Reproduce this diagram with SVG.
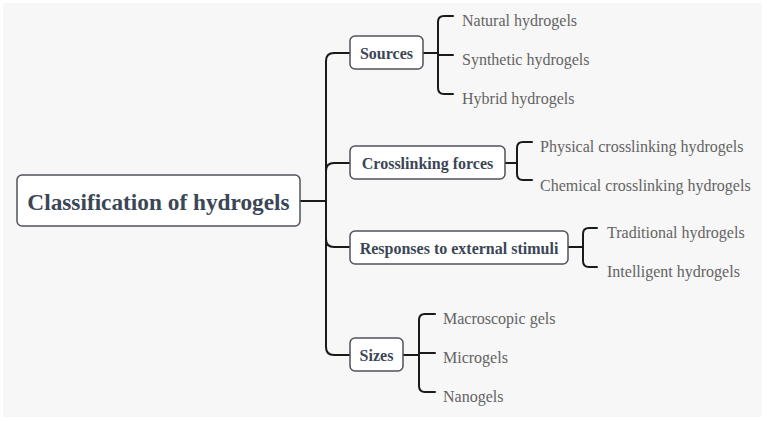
<svg xmlns="http://www.w3.org/2000/svg" width="767" height="421" viewBox="0 0 767 421">
<style>
.box{fill:#fff;stroke:#4f545c;stroke-width:1.5}
.bl{font-family:"Liberation Serif","Times New Roman",serif;font-weight:bold;font-size:16px;fill:#3b4656;text-anchor:middle}
.lf{font-family:"Liberation Serif","Times New Roman",serif;font-size:16px;fill:#636363}
.c{fill:none;stroke:#1a1a1a;stroke-width:2;stroke-linecap:round;stroke-linejoin:round}
</style>
<rect x="3" y="3" width="759" height="414" fill="#f7f7f7"/>
<g id="connectors">
<path class="c" d="M300,201 H326"/>
<path class="c" d="M326,201 V61 Q326,53 334,53 H350"/>
<path class="c" d="M326,201 V171 Q326,163 334,163 H350"/>
<path class="c" d="M326,201 V239 Q326,247 334,247 H350"/>
<path class="c" d="M326,201 V347 Q326,355 334,355 H350"/>
<path class="c" d="M423,53 H438"/>
<path class="c" d="M453,16 H444 Q438,16 438,22 V88 Q438,94 444,94 H453"/>
<path class="c" d="M438,55 H453"/>
<path class="c" d="M505,163 H517"/>
<path class="c" d="M532,142 H523 Q517,142 517,148 V174 Q517,180 523,180 H532"/>
<path class="c" d="M568,247 H583"/>
<path class="c" d="M597,228 H589 Q583,228 583,234 V261 Q583,267 589,267 H597"/>
<path class="c" d="M403,355 H419"/>
<path class="c" d="M435,314 H425 Q419,314 419,320 V386 Q419,392 425,392 H435"/>
<path class="c" d="M419,353 H435"/>
</g>
<g id="root">
<rect class="box" x="17" y="175" width="283" height="51" rx="5"/>
<text class="bl" x="158.5" y="210" style="font-size:23.3px">Classification of hydrogels</text>
</g>
<g id="sources">
<rect class="box" x="350" y="36" width="73" height="33" rx="5"/>
<text class="bl" x="386.5" y="59">Sources</text>
</g>
<g id="crosslinking">
<rect class="box" x="350" y="146" width="155" height="33" rx="5"/>
<text class="bl" x="427.5" y="169">Crosslinking forces</text>
</g>
<g id="responses">
<rect class="box" x="350" y="231" width="218" height="33" rx="5"/>
<text class="bl" x="459" y="254">Responses to external stimuli</text>
</g>
<g id="sizes">
<rect class="box" x="350" y="338" width="53" height="33" rx="5"/>
<text class="bl" x="376.5" y="361">Sizes</text>
</g>
<g id="natural"><text class="lf" x="462" y="26">Natural hydrogels</text></g>
<g id="synthetic"><text class="lf" x="462" y="65">Synthetic hydrogels</text></g>
<g id="hybrid"><text class="lf" x="462" y="104">Hybrid hydrogels</text></g>
<g id="physical"><text class="lf" x="540" y="152">Physical crosslinking hydrogels</text></g>
<g id="chemical"><text class="lf" x="540" y="191">Chemical crosslinking hydrogels</text></g>
<g id="traditional"><text class="lf" x="607" y="238">Traditional hydrogels</text></g>
<g id="intelligent"><text class="lf" x="607" y="277">Intelligent hydrogels</text></g>
<g id="macroscopic"><text class="lf" x="443" y="324">Macroscopic gels</text></g>
<g id="microgels"><text class="lf" x="443" y="363">Microgels</text></g>
<g id="nanogels"><text class="lf" x="443" y="402">Nanogels</text></g>
</svg>
